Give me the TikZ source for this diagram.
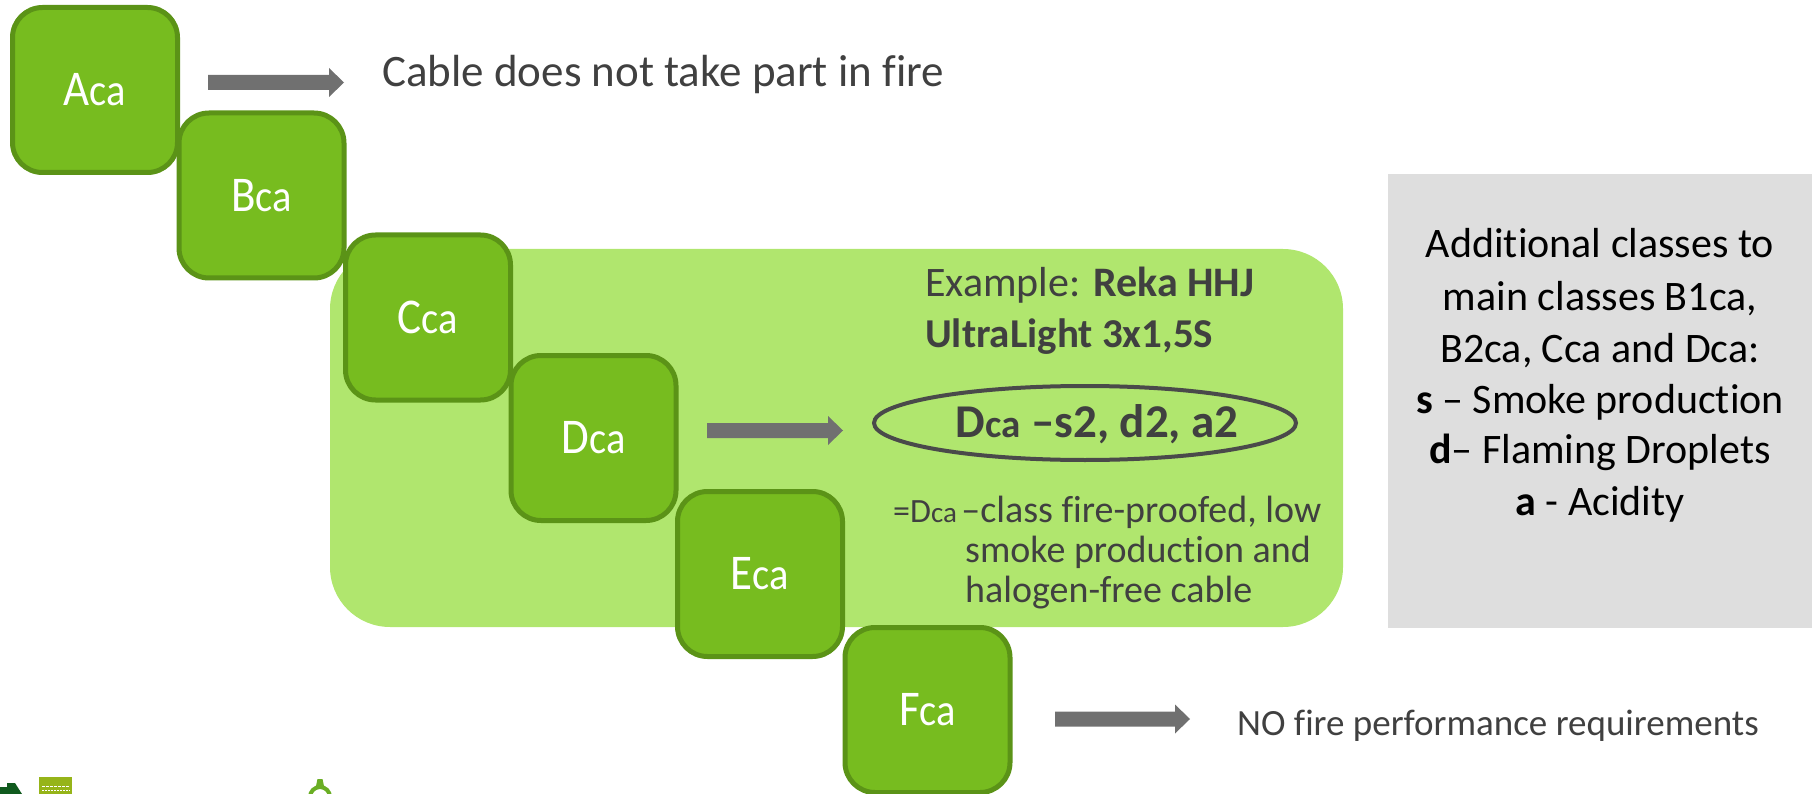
\documentclass[tikz,border=0pt]{standalone}
\usepackage{fontspec}
\setmainfont{Carlito}[Ligatures=NoCommon]
\newfontfamily\boxfont[FakeStretch=0.9,Ligatures=NoCommon]{Carlito}
\usetikzlibrary{shapes.geometric,calc}
\definecolor{boxfill}{RGB}{119,188,31}
\definecolor{boxdraw}{RGB}{91,147,23}
\definecolor{panelgreen}{RGB}{176,230,110}
\definecolor{panelgray}{RGB}{222,222,222}
\definecolor{arrowgray}{RGB}{112,112,112}
\definecolor{txtgray}{RGB}{64,64,64}
\definecolor{ellgray}{RGB}{74,74,74}
\definecolor{logodark}{RGB}{16,90,30}
\definecolor{logoyel}{RGB}{150,180,25}
\definecolor{logoring}{RGB}{106,174,36}
\newcommand{\fs}[1]{\fontsize{#1}{#1}\selectfont}
\newcommand{\blockarrow}[2]{%
  \fill[arrowgray] ($(#1)+(0,-7.5)$) -- ($(#2)+(-15,-7.5)$) -- ($(#2)+(-15,-14.5)$) -- (#2)
    -- ($(#2)+(-15,14.5)$) -- ($(#2)+(-15,7.5)$) -- ($(#1)+(0,7.5)$) -- cycle;}
\begin{document}
\begin{tikzpicture}[x=1pt,y=-1pt,
  classbox/.style={draw=boxdraw, fill=boxfill, line width=5pt, rounded corners=30pt,
    minimum width=165pt, minimum height=165pt, inner sep=0pt, text=white,
    font={\boxfont\fs{50}}},
  txt/.style={anchor=base west, inner sep=0pt, text=txtgray},
  gtxt/.style={anchor=base, inner sep=0pt, text=black, font=\fs{42}}]
\useasboundingbox (0,0) rectangle (1812,794);
\begin{scope}
\clip (0,0) rectangle (1812,794);
% background panels
\fill[panelgreen, rounded corners=60pt] (330,249) rectangle (1343,627);
\node[fill=panelgray, minimum width=424pt, minimum height=454pt, inner sep=0pt] (gray) at (1600,401) {};
% class boxes
\node[classbox] (A) at (95,90) {A{\fs{45}ca}};
\node[classbox] (B) at (261.5,195.5) {B{\fs{45}ca}};
\node[classbox] (C) at (428,317.5) {C{\fs{45}ca}};
\node[classbox] (D) at (593.5,438) {D{\fs{45}ca}};
\node[classbox] (E) at (760,574) {E{\fs{45}ca}};
\node[classbox] (F) at (927.5,710) {F{\fs{45}ca}};
% texts
\node[txt, font=\fs{45}] (t1) at (382,87) {Cable does not take part in fire};
\node[txt, font=\fs{37}] (t3) at (1237,735) {NO fire performance requirements};
\node[txt, font=\fs{42}] (ex1) at (925,297) {Example: \textbf{Reka HHJ}};
\node[txt, font=\fs{41}] (ex2) at (925,347) {\textbf{UltraLight 3x1,5S}};
\node[draw=ellgray, line width=4pt, ellipse, minimum width=422pt, minimum height=74pt, inner sep=0pt] (ell) at (1085,423) {};
\node[anchor=base, inner sep=0pt, text=txtgray, font={\fs{47}\bfseries}] (ellt) at (1097,437) {D{\fs{39}ca} –s2, d2, a2};
\node[txt, font=\fs{34}] (eq) at (893,522) {=D{\fs{29}ca}};
\node[txt, font=\fs{38}] (l1) at ([xshift=4pt]eq.base east) {–class fire-proofed, low};
\node[txt, font=\fs{38}] (l2) at (965,562) {smoke production and};
\node[txt, font=\fs{38}] (l3) at (965,602) {halogen-free cable};
% gray box text
\node[gtxt] (g1) at (1600,258) {Additional classes to};
\node[gtxt] (g2) at (1600,310) {main classes B1ca,};
\node[gtxt] (g3) at (1600,362) {B2ca, Cca and Dca:};
\node[gtxt] (g4) at (1600,413) {\textbf{s} – Smoke production};
\node[gtxt] (g5) at (1600,463) {\textbf{d}– Flaming Droplets};
\node[gtxt] (g6) at (1600,515) {\textbf{a} - Acidity};
% arrows
\coordinate (a1s) at (208,82.5); \coordinate (a1e) at (344,82.5);
\coordinate (a2s) at (707,430.5); \coordinate (a2e) at (843,430.5);
\coordinate (a3s) at (1055,719); \coordinate (a3e) at (1190,719);
\blockarrow{a1s}{a1e}
\blockarrow{a2s}{a2e}
\blockarrow{a3s}{a3e}
% partial logos at bottom left
\fill[logodark] (0,787) -- (7,787) -- (7,783) -- (15,783) -- (22,794) -- (0,794) -- cycle;
\fill[logoyel] (39,777) rectangle (72,794);
\draw[white, line width=1pt, dash pattern=on 3pt off 1pt] (42,786) -- (70,786);
\draw[white, line width=1pt, dash pattern=on 2pt off 1pt] (42,790) -- (70,790);
\fill[logoring] (317.5,779) -- (322.5,779) -- (324,786) -- (316,786) -- cycle;
\draw[logoring, line width=4pt] (320,797) circle (10);
\end{scope}
\end{tikzpicture}
\end{document}
